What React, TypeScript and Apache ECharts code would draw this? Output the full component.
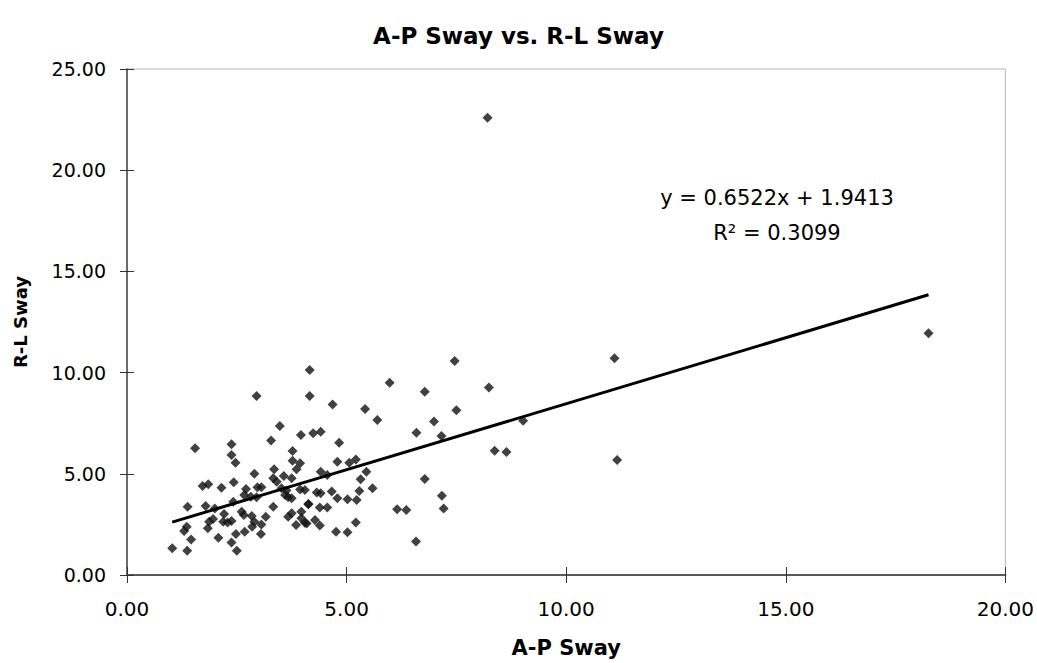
import React, { useEffect, useRef } from "react";
import * as echarts from "echarts";

const apSway = [
  4.16, 2.95, 4.16, 3.48, 3.96, 4.24, 4.41, 1.55, 2.38, 3.28, 2.38, 2.47, 3.77, 3.77, 3.94, 3.86,
  3.35, 2.9, 3.57, 3.33, 3.75, 3.41, 1.72, 1.85, 2.15, 2.43, 2.71, 2.97, 3.06, 3.52, 3.63, 3.94,
  4.05, 4.32, 2.67, 2.82, 2.95, 3.6, 3.67, 3.75, 2.42, 1.38, 1.79, 2.0, 3.33, 4.13, 2.61, 3.97,
  2.21, 2.84, 3.16, 3.75, 1.87, 1.96, 2.19, 2.29, 2.38, 2.66, 2.9, 3.67, 3.97, 4.05, 4.28, 1.36,
  1.3, 1.84, 3.06, 3.85, 1.46, 2.08, 2.48, 2.68, 2.85, 3.05, 2.38, 1.03, 1.37, 2.5,
  7.46, 5.98, 6.78, 8.24, 4.68, 5.42, 5.7, 7.5, 6.99, 6.59, 7.16, 4.83, 4.79, 5.06, 5.21, 4.41,
  4.56, 5.45, 5.32, 6.78, 4.41, 4.66, 5.29, 5.59, 4.79, 5.02, 5.23, 4.13, 4.39, 4.56, 4.09, 4.39,
  4.76, 5.02, 5.21, 6.15, 6.36, 7.17, 7.21, 6.58,
  11.1, 9.02, 8.37, 8.64, 11.16, 8.21, 18.25,
];

const rlSway = [
  10.13, 8.84, 8.84, 7.36, 6.92, 7.0, 7.08, 6.26, 6.46, 6.64, 5.93, 5.55, 6.13, 5.65, 5.52, 5.22,
  5.22, 5.0, 4.89, 4.78, 4.78, 4.61, 4.4, 4.48, 4.31, 4.58, 4.25, 4.33, 4.33, 4.28, 4.17, 4.23,
  4.2, 4.07, 3.95, 3.87, 3.84, 3.95, 3.84, 3.79, 3.62, 3.37, 3.41, 3.29, 3.37, 3.51, 3.13, 3.13,
  3.01, 2.91, 2.88, 3.05, 2.63, 2.77, 2.63, 2.6, 2.67, 2.96, 2.63, 2.88, 2.8, 2.58, 2.72, 2.39,
  2.17, 2.31, 2.5, 2.47, 1.76, 1.84, 2.03, 2.14, 2.39, 2.03, 1.6, 1.32, 1.2, 1.2,
  10.57, 9.5, 9.06, 9.27, 8.43, 8.2, 7.66, 8.14, 7.58, 7.03, 6.87, 6.54, 5.6, 5.55, 5.71, 5.1,
  4.94, 5.1, 4.73, 4.74, 4.04, 4.12, 4.15, 4.28, 3.79, 3.74, 3.71, 3.49, 3.33, 3.34, 2.55, 2.44,
  2.14, 2.11, 2.6, 3.25, 3.21, 3.92, 3.29, 1.65,
  10.71, 7.62, 6.14, 6.08, 5.68, 22.59, 11.94,
];

const slope = 0.6522;
const intercept = 1.9413;
const rSquared = 0.3099;

const chartTitle = "A-P Sway vs. R-L Sway";
const xName = "A-P Sway";
const yName = "R-L Sway";

const FONT = "DejaVu Sans";

export default function App() {
  const ref = useRef<HTMLDivElement>(null);

  useEffect(() => {
    if (!ref.current) return;
    const chart = echarts.init(ref.current, null, { renderer: "svg" });
    const points = apSway.map((x, i) => [x, rlSway[i]]);
    const xmin = Math.min(...apSway);
    const xmax = Math.max(...apSway);
    const trend = [
      [xmin, slope * xmin + intercept],
      [xmax, slope * xmax + intercept],
    ];
    const fmt = (v: number) => v.toFixed(2);

    chart.setOption({
      animation: false,
      backgroundColor: "#ffffff",
      title: {
        text: chartTitle,
        left: "center",
        top: 19,
        textStyle: { fontFamily: FONT, fontSize: 23, fontWeight: "bold", color: "#000" },
      },
      grid: {
        left: 127,
        top: 69,
        right: 31,
        bottom: 88,
        show: true,
        borderColor: "#b4b4b4",
        borderWidth: 1,
        backgroundColor: "#ffffff",
      },
      xAxis: [
        {
          type: "value",
          position: "bottom",
          min: 0,
          max: 20,
          interval: 5,
          name: xName,
          nameLocation: "middle",
          nameGap: 62,
          nameTextStyle: { fontFamily: FONT, fontSize: 21, fontWeight: "bold", color: "#000" },
          axisLine: { show: true, onZero: false, lineStyle: { color: "#5a5a5a", width: 2 } },
          axisTick: { show: true, inside: false, length: 8, lineStyle: { color: "#333", width: 1 } },
          axisLabel: { formatter: fmt, margin: 24, fontFamily: FONT, fontSize: 20, color: "#000" },
          splitLine: { show: false },
        },
        {
          type: "value",
          position: "bottom",
          min: 0,
          max: 20,
          interval: 5,
          axisLine: { show: false },
          axisTick: { show: true, inside: true, length: 8, lineStyle: { color: "#333", width: 1 } },
          axisLabel: { show: false },
          splitLine: { show: false },
        },
      ],
      yAxis: [
        {
          type: "value",
          position: "left",
          min: 0,
          max: 25,
          interval: 5,
          name: yName,
          nameLocation: "middle",
          nameGap: 98,
          nameRotate: 90,
          nameTextStyle: { fontFamily: FONT, fontSize: 18, fontWeight: "bold", color: "#000" },
          axisLine: { show: true, onZero: false, lineStyle: { color: "#444", width: 1.5 } },
          axisTick: { show: true, inside: false, length: 7, lineStyle: { color: "#333", width: 1 } },
          axisLabel: { formatter: fmt, margin: 21, fontFamily: FONT, fontSize: 19, color: "#000" },
          splitLine: { show: false },
        },
        {
          type: "value",
          position: "left",
          min: 0,
          max: 25,
          interval: 5,
          axisLine: { show: false },
          axisTick: { show: true, inside: true, length: 7, lineStyle: { color: "#333", width: 1 } },
          axisLabel: { show: false },
          splitLine: { show: false },
        },
      ],
      graphic: [
        {
          type: "text",
          x: 777,
          y: 198,
          style: {
            text: `y = ${slope.toFixed(4)}x + ${intercept.toFixed(4)}`,
            fontFamily: FONT,
            fontSize: 21,
            fill: "#000",
            textAlign: "center",
            textVerticalAlign: "middle",
          },
        },
        {
          type: "text",
          x: 777,
          y: 233,
          style: {
            text: `R² = ${rSquared.toFixed(4)}`,
            fontFamily: FONT,
            fontSize: 21,
            fill: "#000",
            textAlign: "center",
            textVerticalAlign: "middle",
          },
        },
      ],
      series: [
        {
          type: "scatter",
          xAxisIndex: 0,
          yAxisIndex: 0,
          symbol: "diamond",
          symbolSize: 10,
          itemStyle: { color: "#111111" },
          data: points,
          z: 3,
        },
        {
          type: "line",
          xAxisIndex: 0,
          yAxisIndex: 0,
          data: trend,
          showSymbol: false,
          symbol: "none",
          lineStyle: { color: "#000", width: 3 },
          z: 4,
        },
      ],
    });
    return () => chart.dispose();
  }, []);

  return (
    <div
      ref={ref}
      style={{ position: "fixed", left: 0, top: 0, width: 1037, height: 663, background: "#fff" }}
    />
  );
}
